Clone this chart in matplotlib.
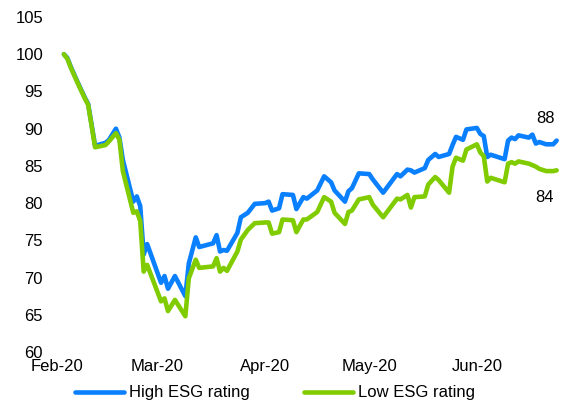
import matplotlib
matplotlib.use("Agg")
from matplotlib import pyplot as plt
import matplotlib.dates as mdates
import pandas as pd

plt.rcParams['font.family'] = ['Liberation Sans', 'DejaVu Sans']

# index level, rebased to 100 at start of February 2020
dates = ['2020-02-03', '2020-02-04', '2020-02-05', '2020-02-07', '2020-02-09',
         '2020-02-10', '2020-02-12', '2020-02-15', '2020-02-16', '2020-02-18',
         '2020-02-19', '2020-02-20', '2020-02-23', '2020-02-24', '2020-02-25',
         '2020-02-26', '2020-02-27', '2020-03-02', '2020-03-03', '2020-03-04',
         '2020-03-06', '2020-03-09', '2020-03-10', '2020-03-12', '2020-03-13',
         '2020-03-17', '2020-03-18', '2020-03-19', '2020-03-20', '2020-03-21',
         '2020-03-24', '2020-03-25', '2020-03-27', '2020-03-29', '2020-04-01',
         '2020-04-02', '2020-04-03', '2020-04-05', '2020-04-06', '2020-04-09',
         '2020-04-10', '2020-04-12', '2020-04-13', '2020-04-16', '2020-04-18',
         '2020-04-20', '2020-04-21', '2020-04-24', '2020-04-25', '2020-04-26',
         '2020-04-28', '2020-05-01', '2020-05-02', '2020-05-05', '2020-05-09',
         '2020-05-10', '2020-05-12', '2020-05-13', '2020-05-14', '2020-05-17',
         '2020-05-18', '2020-05-20', '2020-05-21', '2020-05-24', '2020-05-25',
         '2020-05-26', '2020-05-28', '2020-05-29', '2020-06-01', '2020-06-02',
         '2020-06-03', '2020-06-04', '2020-06-05', '2020-06-09', '2020-06-10',
         '2020-06-11', '2020-06-12', '2020-06-13', '2020-06-16', '2020-06-17',
         '2020-06-18', '2020-06-19', '2020-06-21', '2020-06-23', '2020-06-24']

high_esg = [100.0, 99.5, 98.3, 96.2, 94.2,
            93.3, 87.7, 88.1, 88.5, 90.0,
            88.8, 85.8, 80.2, 80.9, 79.6,
            73.1, 74.5, 69.3, 70.2, 68.5,
            70.2, 67.5, 71.9, 75.4, 74.1,
            74.6, 75.7, 73.5, 73.7, 73.6,
            76.0, 78.1, 78.7, 79.9, 80.0,
            80.2, 79.0, 79.3, 81.2, 81.1,
            79.2, 80.8, 80.6, 81.7, 83.6,
            82.8, 81.7, 80.2, 81.6, 82.0,
            84.0, 83.9, 83.2, 81.4, 83.9,
            83.6, 84.5, 84.4, 84.1, 84.7,
            85.8, 86.6, 86.2, 86.6, 87.8,
            88.9, 88.5, 89.9, 90.1, 89.3,
            89.0, 86.2, 86.5, 85.9, 88.4,
            88.8, 88.6, 89.1, 88.8, 89.2,
            88.0, 88.2, 87.9, 87.9, 88.4]

low_esg = [100.0, 99.4, 98.2, 96.1, 94.1,
           93.2, 87.5, 87.8, 88.3, 89.4,
           88.5, 84.3, 78.7, 78.9, 77.6,
           70.8, 71.7, 66.8, 67.2, 65.5,
           67.0, 64.8, 69.9, 72.4, 71.3,
           71.5, 72.6, 70.8, 71.3, 70.9,
           73.5, 75.1, 76.4, 77.3, 77.4,
           77.4, 75.9, 76.1, 77.8, 77.7,
           76.1, 77.8, 77.8, 78.8, 80.8,
           80.2, 78.7, 77.2, 78.8, 79.0,
           80.5, 80.8, 79.8, 78.1, 80.6,
           80.5, 81.1, 79.4, 80.8, 80.9,
           82.5, 83.5, 83.1, 81.4, 84.9,
           86.1, 85.7, 87.2, 87.9, 86.8,
           86.3, 82.9, 83.4, 82.8, 85.3,
           85.5, 85.3, 85.6, 85.3, 85.1,
           84.9, 84.6, 84.3, 84.3, 84.4]

x = pd.to_datetime(dates)
blue = '#0A80FF'
green = '#80CC00'

fig = plt.figure(figsize=(5.67, 4.08), dpi=100)
ax = fig.add_axes([50 / 567, 1 - 352 / 408, 513.6 / 567, 335 / 408])

ax.plot(x, high_esg, color=blue, lw=3.3, solid_capstyle='round', label='High ESG rating')
ax.plot(x, low_esg, color=green, lw=3.3, solid_capstyle='round', label='Low ESG rating')

# end-of-period values
ax.annotate(f"{high_esg[-1]:.0f}", (x[-1], high_esg[-1]), xytext=(-11, 22),
            textcoords='offset pixels', ha='center', va='center', fontsize=12)
ax.annotate(f"{low_esg[-1]:.0f}", (x[-1], low_esg[-1]), xytext=(-12, -27),
            textcoords='offset pixels', ha='center', va='center', fontsize=12)

ax.set_ylim(60, 105)
ax.set_yticks(range(60, 106, 5))
ax.set_xlim(pd.Timestamp('2020-01-30'), pd.Timestamp('2020-06-26'))
ax.set_xticks(pd.to_datetime(['2020-02-01', '2020-03-01', '2020-04-01', '2020-05-01', '2020-06-01']))
ax.xaxis.set_major_formatter(mdates.DateFormatter('%b-%y'))
ax.tick_params(axis='both', length=0, labelsize=12)
ax.tick_params(axis='y', pad=5)
ax.tick_params(axis='x', pad=5)
for s in ax.spines.values():
    s.set_visible(False)

ax.legend(loc='center', bbox_to_anchor=(0.438, -0.122), ncol=2, frameon=False,
          fontsize=12, handlelength=2.9, handletextpad=0.3, columnspacing=3.3)

plt.savefig('out.png', dpi=100)
